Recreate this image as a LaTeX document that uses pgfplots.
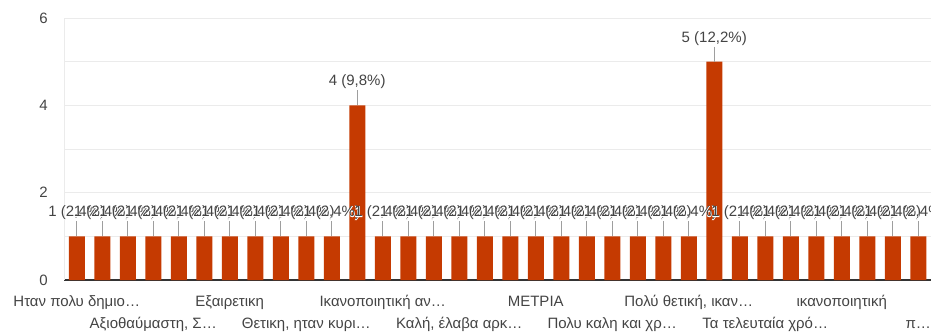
\documentclass[border=0pt]{standalone}
\usepackage{pgfplots}
\pgfplotsset{compat=1.18}
\usepackage{fontspec}
\setmainfont{Liberation Sans}
\newfontfamily\aurafont[FakeBold=4]{Liberation Sans}
\definecolor{barc}{RGB}{197,58,1}
\definecolor{txt}{HTML}{444444}
\definecolor{gridc}{HTML}{EBEBEB}
\definecolor{lead}{HTML}{9E9E9E}
\newcommand\auralabel[1]{\rlap{\color{white}\aurafont #1}#1}
\begin{document}
\begin{tikzpicture}
\useasboundingbox (-64pt,-53pt) rectangle (867pt,280pt);
\begin{axis}[
  at={(0,0)}, anchor=south west,
  scale only axis, width=867pt, height=262pt,
  xmin=-0.5, xmax=33.5, ymin=0, ymax=6,
  ybar, bar width=16pt,
  axis x line*=bottom, axis y line*=left, axis line style={-},
  x axis line style={draw=black!80, line width=1.3pt},
  y axis line style={draw=gridc, line width=1pt},
  major tick length=0pt, minor tick length=0pt,
  ytick={0,2,4,6}, minor ytick={1,3,5},
  ymajorgrids, yminorgrids,
  major grid style={draw=gridc, line width=1pt},
  minor grid style={draw=gridc, line width=1pt},
  /pgf/number format/assume math mode=true,
  yticklabel style={font=\fontsize{15}{18}\selectfont, text=txt, inner sep=0pt, xshift=-16pt},
  xtick={0,6,12,18,24,30},
  xticklabels={{Ηταν πολυ δημιο…}, {Εξαιρετικη}, {Ικανοποιητική αν…}, {ΜΕΤΡΙΑ}, {Πολύ θετική, ικαν…}, {ικανοποιητική}},
  xticklabel style={font=\fontsize{15}{18}\selectfont, text=txt, inner sep=0pt, anchor=base, yshift=-26pt},
  extra x ticks={3,9,15,21,27,33},
  extra x tick labels={{Αξιοθαύμαστη, Σ…}, {Θετικη, ηταν κυρι…}, {Καλή, έλαβα αρκ…}, {Πολυ καλη και χρ…}, {Τα τελευταία χρό…}, {π…}},
  extra x tick style={xticklabel style={yshift=-22pt}, grid=none},
  point meta=explicit symbolic,
  nodes near coords={\auralabel{\pgfplotspointmeta}},
  every node near coord/.append style={font=\fontsize{15}{18}\selectfont, text=txt, anchor=base, yshift=19.5pt, inner sep=0pt},
  clip=false,
]
\addplot[fill=barc, draw=none,
  error bars/.cd, y dir=plus, y fixed=0.34, error mark=none,
  error bar style={draw=lead, line width=0.9pt}]
coordinates {
(0,1) [1 (2,4\%)]
(1,1) [1 (2,4\%)]
(2,1) [1 (2,4\%)]
(3,1) [1 (2,4\%)]
(4,1) [1 (2,4\%)]
(5,1) [1 (2,4\%)]
(6,1) [1 (2,4\%)]
(7,1) [1 (2,4\%)]
(8,1) [1 (2,4\%)]
(9,1) [1 (2,4\%)]
(10,1) [1 (2,4\%)]
(11,4) [4 (9,8\%)]
(12,1) [1 (2,4\%)]
(13,1) [1 (2,4\%)]
(14,1) [1 (2,4\%)]
(15,1) [1 (2,4\%)]
(16,1) [1 (2,4\%)]
(17,1) [1 (2,4\%)]
(18,1) [1 (2,4\%)]
(19,1) [1 (2,4\%)]
(20,1) [1 (2,4\%)]
(21,1) [1 (2,4\%)]
(22,1) [1 (2,4\%)]
(23,1) [1 (2,4\%)]
(24,1) [1 (2,4\%)]
(25,5) [5 (12,2\%)]
(26,1) [1 (2,4\%)]
(27,1) [1 (2,4\%)]
(28,1) [1 (2,4\%)]
(29,1) [1 (2,4\%)]
(30,1) [1 (2,4\%)]
(31,1) [1 (2,4\%)]
(32,1) [1 (2,4\%)]
(33,1) [1 (2,4\%)]
};
\end{axis}
\end{tikzpicture}
\end{document}
